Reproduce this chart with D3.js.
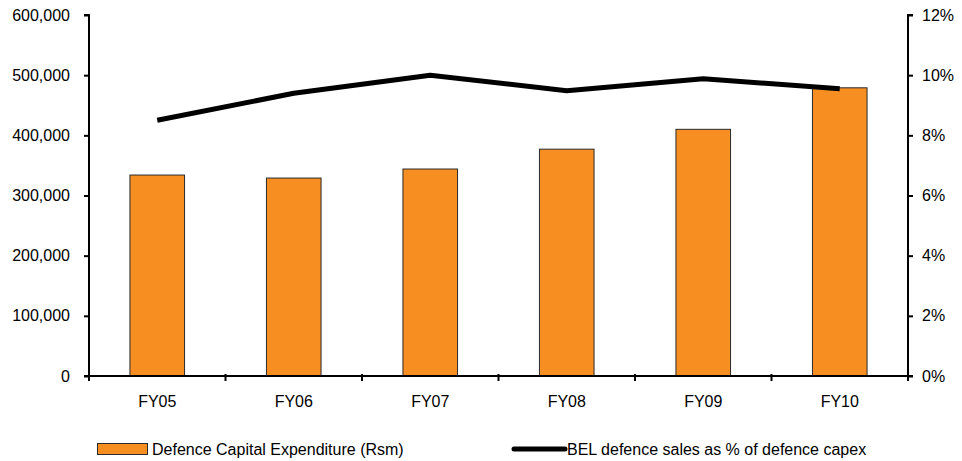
<!DOCTYPE html>
<html>
<head>
<meta charset="utf-8">
<script src="https://cdn.jsdelivr.net/npm/d3@7"></script>
<style>
  html, body { margin: 0; padding: 0; background: #fff; }
  svg text { font-family: "Liberation Sans", Arial, sans-serif; font-size: 16px; fill: #000; }
</style>
</head>
<body>
<svg id="chart" width="962" height="461"></svg>
<script>
// Fiscal years on the category axis
const years = ["FY05", "FY06", "FY07", "FY08", "FY09", "FY10"];
// Defence capital expenditure, Rs million
const capex = [334000, 329000, 344000, 377000, 410000, 479000];
// BEL defence sales as a share of defence capex, %
const belShare = [8.5, 9.4, 10.0, 9.48, 9.88, 9.55];
// Axis ticks
const leftTicks = [0, 100000, 200000, 300000, 400000, 500000, 600000];
const rightTicks = [0, 2, 4, 6, 8, 10, 12];

const svg = d3.select("#chart");
const plotL = 89, plotR = 908, plotT = 15, plotB = 376;

const x = d3.scaleBand().domain(years).range([plotL, plotR]).paddingInner(0.6).paddingOuter(0.3);
const xOuter = d3.scaleBand().domain(years).range([plotL, plotR]);
const y = d3.scaleLinear().domain([0, 600000]).range([plotB, plotT]);
const y2 = d3.scaleLinear().domain([0, 12]).range([plotB, plotT]);

// Bars
svg.append("g").selectAll("rect").data(years).join("rect")
  .attr("x", d => x(d))
  .attr("y", (d, i) => y(capex[i]))
  .attr("width", x.bandwidth())
  .attr("height", (d, i) => y(0) - y(capex[i]))
  .attr("fill", "#F68E21")
  .attr("stroke", "#2b2b2b")
  .attr("stroke-width", 1);

// Line
const line = d3.line()
  .x((d, i) => xOuter(years[i]) + xOuter.bandwidth() / 2)
  .y(d => y2(d));
svg.append("path").datum(belShare)
  .attr("d", line)
  .attr("fill", "none")
  .attr("stroke", "#000")
  .attr("stroke-width", 5)
  .attr("stroke-linejoin", "round");

// Left axis
const fmt = d3.format(",");
const gl = svg.append("g").attr("transform", `translate(${plotL},0)`)
  .call(d3.axisLeft(y).tickValues(leftTicks).tickFormat(fmt).tickSize(5).tickPadding(14));
// Right axis
const gr = svg.append("g").attr("transform", `translate(${plotR},0)`)
  .call(d3.axisRight(y2).tickValues(rightTicks).tickFormat(d => d + "%").tickSize(5).tickPadding(9));
// Bottom axis: ticks at category boundaries
const gb = svg.append("g").attr("transform", `translate(0,${plotB})`);
gb.append("line").attr("x1", plotL).attr("x2", plotR).attr("stroke", "#000").attr("stroke-width", 2);
const bounds = years.map(d => xOuter(d)).concat([plotR]);
gb.selectAll("line.tk").data(bounds).join("line").attr("class", "tk")
  .attr("x1", d => d).attr("x2", d => d).attr("y1", -2).attr("y2", 5)
  .attr("stroke", "#000").attr("stroke-width", 2);
gb.selectAll("text").data(years).join("text")
  .attr("x", d => xOuter(d) + xOuter.bandwidth() / 2)
  .attr("y", 31)
  .attr("text-anchor", "middle")
  .text(d => d);

[gl, gr].forEach(g => {
  g.select(".domain").attr("stroke", "#000").attr("stroke-width", 2);
  g.selectAll(".tick line").attr("stroke", "#000").attr("stroke-width", 2);
  g.selectAll(".tick text").style("font-size", "16px").attr("fill", "#000");
});
gl.select(".domain").attr("d", `M-5,${plotT}H0V${plotB}H-5`);
gr.select(".domain").attr("d", `M5,${plotT}H0V${plotB}H5`);

// Legend
const lg = svg.append("g");
lg.append("rect").attr("x", 97.5).attr("y", 443.5).attr("width", 50).attr("height", 11)
  .attr("fill", "#F68E21").attr("stroke", "#2b2b2b").attr("stroke-width", 1);
lg.append("text").attr("x", 152).attr("y", 455).text("Defence Capital Expenditure (Rsm)");
lg.append("line").attr("x1", 514).attr("x2", 565).attr("y1", 449).attr("y2", 449)
  .attr("stroke", "#000").attr("stroke-width", 5).attr("stroke-linecap", "round");
lg.append("text").attr("x", 567).attr("y", 455).text("BEL defence sales as % of defence capex");
</script>
</body>
</html>
